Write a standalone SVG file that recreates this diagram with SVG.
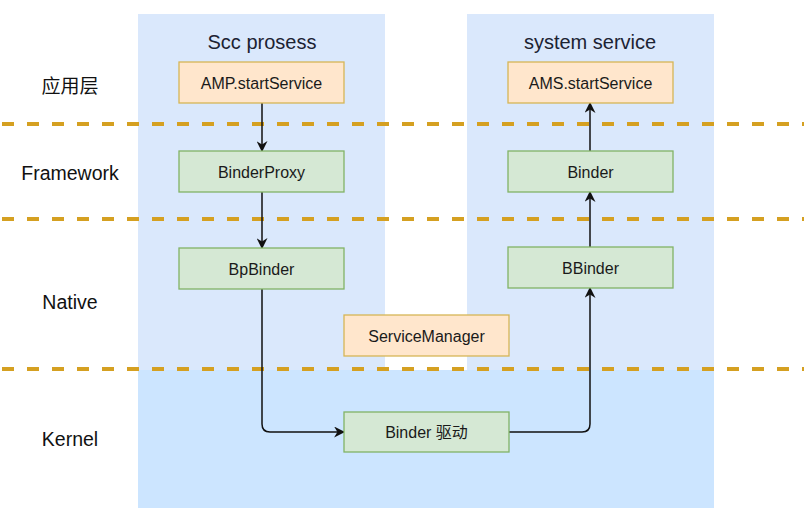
<svg xmlns="http://www.w3.org/2000/svg" width="804" height="515" viewBox="0 0 804 515">
<defs>
<style>
.panel{fill:#dae8fc;stroke:none}
.kernel{fill:#cce5ff;stroke:none}
.sep{stroke:#d5a021;stroke-width:4;stroke-dasharray:12 13;fill:none}
.org{fill:#ffe6cc;stroke:#d6b656;stroke-width:1.3}
.grn{fill:#d5e8d4;stroke:#82b366;stroke-width:1.3}
.nt{font-family:"Liberation Sans",Arial,sans-serif;font-size:16px;fill:#1a1a1a;text-anchor:middle;dominant-baseline:central}
.lbl{font-family:"Liberation Sans","Noto Sans CJK SC",sans-serif;font-size:19.5px;fill:#111;text-anchor:middle;dominant-baseline:central}
.ttl{font-family:"Liberation Sans",Arial,sans-serif;font-size:20px;fill:#1c2333;text-anchor:middle;dominant-baseline:central}
.cn{fill:none;stroke:#111;stroke-width:1.5}
</style>
<marker id="arr" viewBox="0 0 10 10" refX="9" refY="5" markerWidth="11" markerHeight="11" markerUnits="userSpaceOnUse" orient="auto">
<path d="M0,0 L10,5 L0,10 L3,5 Z" fill="#111"/>
</marker>
</defs>
<rect width="804" height="515" fill="#ffffff"/>
<g id="panels">
<rect id="scc-panel" class="panel" x="138" y="14" width="247" height="494"/>
<rect id="sys-panel" class="panel" x="467" y="14" width="247" height="494"/>
<rect id="kernel-band" class="kernel" x="138" y="370" width="576" height="138"/>
<text class="ttl" x="262" y="42">Scc prosess</text>
<text class="ttl" x="590" y="42">system service</text>
</g>
<g id="layers">
<line class="sep" x1="2" y1="124" x2="804" y2="124"/>
<line class="sep" x1="2" y1="219" x2="804" y2="219"/>
<line class="sep" x1="2" y1="369" x2="804" y2="369"/>
<text class="lbl" x="70" y="84" style="font-family:'Noto Sans CJK SC',sans-serif;font-size:19px">应用层</text>
<text class="lbl" x="70" y="173">Framework</text>
<text class="lbl" x="70" y="302">Native</text>
<text class="lbl" x="70" y="439">Kernel</text>
</g>
<g id="connectors">
<line class="cn" x1="262" y1="103" x2="262" y2="151" marker-end="url(#arr)"/>
<line class="cn" x1="262" y1="192" x2="262" y2="248" marker-end="url(#arr)"/>
<path class="cn" d="M262,289 L262,424 Q262,432 270,432 L344,432" marker-end="url(#arr)"/>
<path class="cn" d="M509,432 L582,432 Q590,432 590,424 L590,288" marker-end="url(#arr)"/>
<line class="cn" x1="590" y1="247" x2="590" y2="192" marker-end="url(#arr)"/>
<line class="cn" x1="590" y1="151" x2="590" y2="103" marker-end="url(#arr)"/>
</g>
<g id="amp-startservice"><rect class="org" x="179" y="62" width="165" height="41"/><text class="nt" x="261.5" y="83">AMP.startService</text></g>
<g id="binderproxy"><rect class="grn" x="179" y="151" width="165" height="41"/><text class="nt" x="261.5" y="172">BinderProxy</text></g>
<g id="bpbinder"><rect class="grn" x="179" y="248" width="165" height="41"/><text class="nt" x="261.5" y="269">BpBinder</text></g>
<g id="ams-startservice"><rect class="org" x="508" y="62" width="165" height="41"/><text class="nt" x="590.5" y="83">AMS.startService</text></g>
<g id="binder"><rect class="grn" x="508" y="151" width="165" height="41"/><text class="nt" x="590.5" y="172">Binder</text></g>
<g id="bbinder"><rect class="grn" x="508" y="247" width="165" height="41"/><text class="nt" x="590.5" y="268">BBinder</text></g>
<g id="servicemanager"><rect class="org" x="344" y="315" width="165" height="41"/><text class="nt" x="426.5" y="336">ServiceManager</text></g>
<g id="binder-driver"><rect class="grn" x="344" y="412" width="165" height="40"/><text class="nt" x="426.5" y="432" style="font-family:'Liberation Sans','Noto Sans CJK SC',sans-serif">Binder 驱动</text></g>
</svg>
